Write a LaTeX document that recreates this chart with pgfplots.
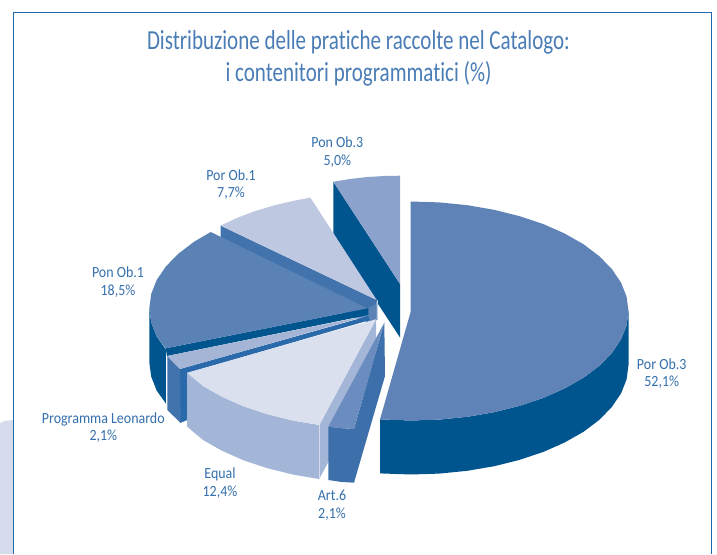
\documentclass[border=0pt]{standalone}
\usepackage{fontspec}
\setmainfont[FakeStretch=0.9,Ligatures=NoCommon]{Carlito}
\newfontfamily\titlefont[FakeStretch=0.765,Ligatures=NoCommon]{Carlito}
\usepackage{pgfplots}
\pgfplotsset{compat=1.18}
\definecolor{txt}{HTML}{3570AD}
\definecolor{titlec}{HTML}{4A7CB6}
\definecolor{frame}{HTML}{1F68A9}
\definecolor{big}{HTML}{5F83B6}
\definecolor{dark}{HTML}{01558F}
\definecolor{ponthree}{HTML}{8BA3CC}
\definecolor{porone}{HTML}{BEC8E1}
\definecolor{band}{HTML}{4273AC}
\definecolor{ponone}{HTML}{5A82B5}
\definecolor{leo}{HTML}{A5B5D6}
\definecolor{strip}{HTML}{2A6AAB}
\definecolor{equaltop}{HTML}{DBE0EF}
\definecolor{equalside}{HTML}{A4B6D8}
\definecolor{arttop}{HTML}{6A8CBE}
\definecolor{artside}{HTML}{3D70AB}
\definecolor{corner}{HTML}{D6DCEC}
\tikzset{lab/.style={font=\fontsize{15.5}{17.5}\selectfont, text=txt, align=center, inner sep=0pt}}
\begin{document}
\begin{tikzpicture}
\begin{axis}[
  scale only axis, width=717pt, height=554pt,
  xmin=0, xmax=717, ymin=0, ymax=554, y dir=reverse,
  axis lines=none, clip=true,
]
% page background (keeps the whole area in the picture)
\addplot[fill=white, draw=none] coordinates {(0,0)(717,0)(717,554)(0,554)} -- cycle;
% corner and frame
\addplot[fill=corner, draw=none] coordinates {(0,423)(5,421)(13,420)(13,554)(0,554)} -- cycle;
\addplot[frame, line width=1.3pt] coordinates {(13.3,554)(13.3,12.5)(711.7,12.5)(711.7,554)};

% Pon Ob.3 5,0
\addplot[fill=dark, draw=none] coordinates {(333.3,181.7)(400,284)(400,337.5)(333.3,235.7)} -- cycle;
\addplot[fill=ponthree, draw=none] coordinates {(333.3,181.7)(350,179)(367,177)(385,176)(400,175.7)(400,284)} -- cycle;

% Por Ob.1 7,7
\addplot[fill=band, draw=none] coordinates {(220.7,225.7)(376.7,300)(376.5,320)(367,322)(220.7,262)} -- cycle;
\addplot[fill=porone, draw=none] coordinates {(220.7,225.6)(236.6,218.1)(254.8,211.2)(274.4,205.3)(295,200.5)(310.4,197.7)(376.7,300)} -- cycle;
\addplot[fill=ponone, draw=none] coordinates {(367.3,308)(376.3,304)(376.3,320)(367.3,322)} -- cycle;
\addplot[color=porone, line width=0.6pt] coordinates {(376.8,300)(376.8,320)};

% Pon Ob.1 18,5
\addplot[fill=dark, draw=none] coordinates {(149.3,308.3)(151.2,322.6)(156.7,336.6)(165.9,349.5)(165.9,403.5)(156.7,390.6)(151.2,376.6)(149.3,362.3)} -- cycle;
\addplot[fill=dark, draw=none] coordinates {(165.7,348.3)(368.3,308)(368.3,315)(167,356)} -- cycle;
\addplot[fill=ponone, draw=none] coordinates {(210.7,232)(194.3,241.6)(178.5,253.6)(165.9,266.4)(156.7,280)(151.2,294)(149.3,308.3)(151.2,322.6)(156.7,336.6)(165.7,348.3)(367.3,308.3)} -- cycle;

% Programma Leonardo 2,1
\addplot[fill=strip, draw=none] coordinates {(180,369)(368.3,316)(370,320)(187.3,373)(187.3,420)(180,423)} -- cycle;
\addplot[fill=band, draw=none] coordinates {(167.3,356)(180,369)(180.7,423)(167.3,410)} -- cycle;
\addplot[fill=leo, draw=none] coordinates {(167.3,356)(368.3,315.5)(180,369)} -- cycle;

% Equal 12,4
\addplot[fill=equalside, draw=none] coordinates {(319.3,424.8)(376,319.3)(376,373)(319.3,478.8)} -- cycle;
\addplot[fill=equalside, draw=none] coordinates {(187.2,372.7)(203,386)(221.9,396.7)(243.3,406.2)(267,414.1)(292.6,420.5)(319.6,425.1)(319.6,479.1)(292.6,474.5)(267,468.1)(243.3,460.2)(221.9,450.7)(203,440)(187.2,426.7)} -- cycle;
\addplot[color=corner, line width=0.6pt] coordinates {(319.5,425)(319.5,479)};
\addplot[fill=equaltop, draw=none] coordinates {(187.2,372.7)(203,386)(221.9,396.7)(243.3,406.2)(267,414.1)(292.6,420.5)(319.6,424.8)(376,319.3)} -- cycle;

% Art.6 2,1
\addplot[fill=artside, draw=none] coordinates {(354,429)(384.3,322.7)(385,376)(354,482.7)} -- cycle;
\addplot[fill=artside, draw=none] coordinates {(328.3,426.7)(341,428.2)(354,429)(354,482.7)(341,481.9)(328.3,480)} -- cycle;
\addplot[fill=arttop, draw=none] coordinates {(328.3,426.7)(341,428.2)(354,429)(384.3,322.7)} -- cycle;

% Por Ob.3 52,1
\addplot[fill=dark, draw=none] coordinates {(628.5,311)(626.6,325.3)(621.1,339.3)(611.9,352.9)(599.4,365.8)(583.6,377.7)(564.8,388.4)(543.4,397.9)(519.8,405.8)(494.2,412.2)(467.3,416.8)(439.4,419.6)(411,420.5)(380,419.4)(380,473.4)(411,474.5)(439.4,473.6)(467.3,470.8)(494.2,466.2)(519.8,459.8)(543.4,451.9)(564.8,442.4)(583.6,431.7)(599.4,419.8)(611.9,406.9)(621.1,393.3)(626.6,379.3)(628.5,365)} -- cycle;
\addplot[fill=big, draw=none] coordinates {(410.7,201.5)(439.4,202.4)(467.3,205.2)(494.2,209.8)(519.8,216.2)(543.4,224.1)(564.8,233.6)(583.6,244.3)(599.4,256.3)(611.9,269.1)(621.1,282.7)(626.6,296.7)(628.5,311)(626.6,325.3)(621.1,339.3)(611.9,352.9)(599.4,365.8)(583.6,377.7)(564.8,388.4)(543.4,397.9)(519.8,405.8)(494.2,412.2)(467.3,416.8)(439.4,419.6)(411,420.5)(380,419.4)(410.7,311.7)} -- cycle;

% labels
\node[lab, text=titlec, font=\titlefont\fontsize{27.5}{32.5}\selectfont] at (axis cs:358.5,58.5) {Distribuzione delle pratiche raccolte nel Catalogo:\\ i contenitori programmatici (\%)};
\node[lab] at (axis cs:337.3,152) {Pon Ob.3\\5,0\%};
\node[lab] at (axis cs:231,184.5) {Por Ob.1\\7,7\%};
\node[lab] at (axis cs:118,282) {Pon Ob.1\\18,5\%};
\node[lab] at (axis cs:661.7,373.5) {Por Ob.3\\52,1\%};
\node[lab] at (axis cs:103.3,427.5) {Programma Leonardo\\2,1\%};
\node[lab] at (axis cs:220,483) {Equal\\12,4\%};
\node[lab] at (axis cs:332,505.5) {Art.6\\2,1\%};
\end{axis}
\end{tikzpicture}
\end{document}
